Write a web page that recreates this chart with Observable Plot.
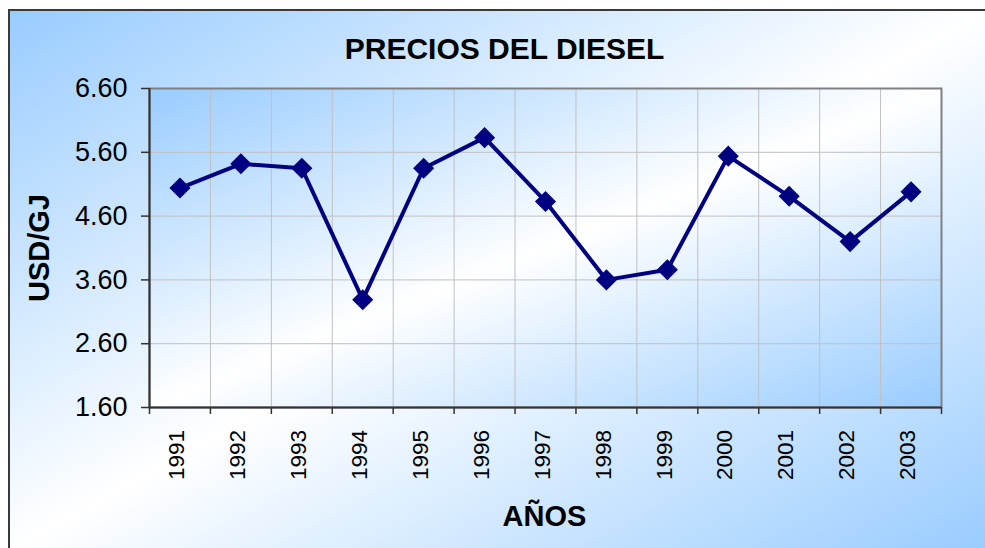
<!DOCTYPE html>
<html>
<head>
<meta charset="utf-8">
<script src="https://cdn.jsdelivr.net/npm/d3@7"></script>
<script src="https://cdn.jsdelivr.net/npm/@observablehq/plot@0.6"></script>
<style>
  html, body { margin: 0; padding: 0; background: #ffffff; }
  body { width: 985px; height: 548px; position: relative; overflow: hidden; font-family: "Liberation Sans", Arial, sans-serif; }
  #box {
    position: absolute; left: 8px; top: 9px; width: 977px; height: 539px;
    border-top: 2px solid #3a3a3a; border-left: 2px solid #3a3a3a;
    background: linear-gradient(to bottom right, #99ccff 0%, #ffffff 50%, #99ccff 100%);
  }
  #chart { position: absolute; left: 0; top: 0; }
</style>
</head>
<body>
<div id="box"></div>
<div id="chart"></div>
<script>
const title = "PRECIOS DEL DIESEL";
const xLabel = "AÑOS";
const yLabel = "USD/GJ";
const years = [1991, 1992, 1993, 1994, 1995, 1996, 1997, 1998, 1999, 2000, 2001, 2002, 2003];
const prices = [5.04, 5.42, 5.35, 3.29, 5.35, 5.83, 4.83, 3.60, 3.76, 5.54, 4.91, 4.20, 4.98];
const yTicks = [1.6, 2.6, 3.6, 4.6, 5.6, 6.6];

const data = years.map((y, i) => ({year: y, price: prices[i]}));
const boundaries = [years[0] - 0.5, ...years.map(y => y + 0.5)];

const navy = "#000080";

const chart = Plot.plot({
  width: 985,
  height: 548,
  marginLeft: 149,
  marginRight: 44,
  marginTop: 88,
  marginBottom: 141,
  style: {background: "transparent", fontFamily: "'Liberation Sans', Arial, sans-serif", color: "#000", overflow: "visible"},
  x: {domain: [years[0] - 0.5, years[years.length - 1] + 0.5]},
  y: {domain: [yTicks[0], yTicks[yTicks.length - 1]]},
  marks: [
    Plot.frame({fill: "url(#plotgrad)", stroke: "none"}),
    Plot.gridX(boundaries, {stroke: "#c0c0c0", strokeOpacity: 1, strokeWidth: 1}),
    Plot.gridY(yTicks, {stroke: "#c0c0c0", strokeOpacity: 1, strokeWidth: 1}),
    Plot.frame({stroke: "#808080", strokeWidth: 2}),
    Plot.axisY({ticks: yTicks, tickFormat: d3.format(".2f"), tickSize: 8, tickPadding: 14, fontSize: 27, label: null, stroke: "#333", strokeWidth: 1.5}),
    Plot.axisX({ticks: boundaries, tickSize: 7, tickFormat: () => "", label: null, stroke: "#333", strokeWidth: 1.5}),
    Plot.axisX({ticks: years, tickSize: 0, tickPadding: 22.5, tickRotate: -90, tickFormat: d => String(d), fontSize: 22.5, dx: -3, label: null}),
    Plot.ruleX([years[0] - 0.5], {stroke: "#333", strokeWidth: 2}),
    Plot.ruleY([yTicks[0]], {stroke: "#333", strokeWidth: 2}),
    Plot.line(data, {x: "year", y: "price", stroke: navy, strokeWidth: 4}),
    Plot.dot(data, {x: "year", y: "price", symbol: "diamond2", r: 9.5, fill: navy, stroke: "none"}),
    Plot.text([title], {frameAnchor: "top", lineAnchor: "top", textAnchor: "middle", text: d => d, dx: -41, dy: -51, fontSize: 30, fontWeight: "bold", fill: "#000"}),
    Plot.text([xLabel], {frameAnchor: "bottom", text: d => d, textAnchor: "middle", dx: -1, dy: 118, fontSize: 29, fontWeight: "bold", fill: "#000"}),
    Plot.text([yLabel], {frameAnchor: "left", textAnchor: "middle", lineAnchor: "middle", text: d => d, rotate: -90, dx: -110, fontSize: 29, fontWeight: "bold", fill: "#000"})
  ]
});

const defs = d3.select(chart).insert("defs", ":first-child");
const grad = defs.append("linearGradient").attr("id", "plotgrad")
  .attr("x1", 0).attr("y1", 0).attr("x2", 1).attr("y2", 1);
grad.append("stop").attr("offset", "0%").attr("stop-color", "#99ccff");
grad.append("stop").attr("offset", "50%").attr("stop-color", "#ffffff");
grad.append("stop").attr("offset", "100%").attr("stop-color", "#99ccff");

document.getElementById("chart").append(chart);
</script>
</body>
</html>
